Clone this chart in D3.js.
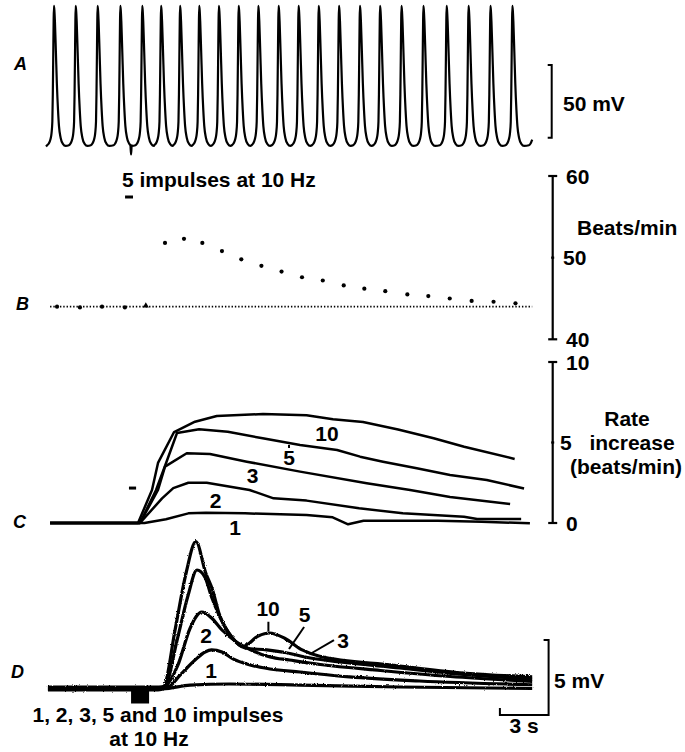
<!DOCTYPE html>
<html><head><meta charset="utf-8">
<script src="https://cdn.jsdelivr.net/npm/d3@7"></script>
<style>
html,body{margin:0;padding:0;background:#fff;}
svg{display:block;}
text{font-family:"Liberation Sans",Arial,Helvetica,sans-serif;font-weight:bold;fill:#000;}
</style></head><body>
<svg id="chart" width="685" height="752"></svg>
<script>
// ---------- DATA ----------
// shared time axis (s)
const timeDomain = [0, 30];

// Panel A: action potential peak times (s) and single-beat waveform (mV)
const beatTimes = [0.49,1.83,3.18,4.58,5.93,7.09,8.26,9.44,10.65,11.87,13.08,14.33,15.56,16.80,18.05,19.34,20.58,21.90,23.25,24.68,26.03,27.38,28.73,30.17];
const apDown = [[0,30.6],[0.03,27],[0.06,20],[0.12,-1],[0.18,-23],[0.25,-41],[0.31,-52],[0.41,-60],[0.55,-64.2],[0.72,-65.6]];
const apUp = [[-0.42,-65.2],[-0.32,-64],[-0.22,-61.3],[-0.15,-57],[-0.10,-49],[-0.07,-30],[-0.045,-5],[-0.02,20]];
const artifact = [[5.20,-65.4],[5.24,-71.5],[5.28,-65.2]];
const traceSpanA = [0, 29.95];

// Panel B: instantaneous rate (beats/min)
const bTimes = [0.68,2.09,3.45,4.86,6.15,7.33,8.50,9.63,10.84,12.03,13.27,14.51,15.77,17.05,18.34,19.61,20.90,22.26,23.55,24.87,26.22,27.57,28.92];
const bRates = [44.0,43.9,44.0,43.9,44.1,51.8,52.3,51.8,50.8,49.8,49.0,48.3,47.6,47.2,46.6,46.2,45.9,45.5,45.3,45.0,44.7,44.6,44.4];
const bControlRate = 44.0;
const bControlSpan = [0.25, 29.95];
const bStim = [4.87, 5.36];
const bTicks = [40, 50, 60];

// Panel C: rate increase (beats/min) for 1,2,3,5,10 impulses
const c10 = [[0.25,0],[5.67,0],[6.53,2.05],[6.90,3.73],[7.89,5.65],[9.18,6.29],[10.52,6.65],[13.37,6.77],[16.05,6.69],[17.68,6.44],[19.53,6.27],[21.69,5.81],[23.88,5.26],[25.76,4.74],[28.87,3.98]];
const c5 = [[0.25,0],[5.79,0],[6.78,2.05],[7.33,3.54],[8.07,5.59],[9.43,5.82],[11.2,5.67],[13.35,5.26],[15.65,4.84],[17.93,4.53],[19.35,4.12],[20.76,3.81],[22.84,3.40],[24.89,2.98],[27.15,2.67],[29.45,2.14]];
const c3 = [[0.25,0],[5.79,0],[6.90,2.05],[7.33,3.5],[8.67,4.33],[10.1,4.29],[12.37,3.81],[15.65,3.19],[19.76,2.47],[22.43,2.05],[24.89,1.61],[28.59,1.18]];
const c2 = [[0.25,0],[5.79,0],[7.15,1.53],[7.84,2.17],[8.77,2.5],[9.9,2.5],[12.54,2.05],[14.02,1.53],[16.05,1.39],[19.29,0.91],[21.98,0.60],[25.75,0.39],[26.56,0.25],[29.27,0.25]];
const c1 = [[0.25,0],[6.07,0],[7.39,0.23],[8.77,0.6],[9.85,0.64],[12.26,0.6],[16.05,0.5],[17.66,0.35],[18.61,-0.08],[19.56,0.14],[24.14,0.14],[26.84,0.08],[29.81,-0.02]];
const cLabels = [["10",17.31,5.09],["5",14.97,3.60],["3",12.72,2.48],["2",10.44,0.93],["1",11.65,-0.75]];
const cStim = [5.11, 5.55, 2.17];
const cTicks = [0, 5, 10];

// Panel D: depolarisation (mV)
const d10 = [[0.12,-0.06],[6.9,-0.06],[7.26,0.12],[7.95,3.9],[8.63,7.7],[9.23,9.8],[9.84,7.7],[10.25,6.6],[10.66,5.0],[11.46,3.4],[12.14,2.8],[13.08,3.5],[13.76,3.7],[14.7,3.35],[15.78,2.57],[16.86,2.15],[21.44,1.55],[25.49,1.05],[29.95,0.78]];
const d5 = [[0.12,0.06],[6.9,0.06],[7.33,0.17],[8.07,3.2],[8.75,6.2],[9.3,7.9],[9.8,7.4],[10.2,6.1],[10.7,4.8],[11.46,3.4],[12.26,2.7],[13.6,2.57],[14.85,2.37],[15.96,2.1],[18.1,1.77],[21.8,1.37],[25.5,0.95],[29.95,0.62]];
const d3c = [[0.12,-0.1],[6.9,-0.1],[7.33,0.1],[8.13,1.57],[8.87,4.0],[9.6,5.1],[10.2,4.7],[10.84,3.9],[11.65,3.17],[12.57,2.6],[13.8,2.1],[15.0,1.9],[16.9,1.6],[20.6,1.2],[24.9,0.8],[29.95,0.48]];
const d2 = [[0.12,0.1],[7.0,0.1],[7.52,0.12],[8.26,0.9],[9.18,1.9],[9.8,2.43],[10.2,2.57],[10.84,2.43],[11.52,1.97],[12.57,1.57],[13.8,1.3],[15.65,1.1],[18.7,0.77],[23.0,0.5],[29.95,0.25]];
const d1 = [[0.12,-0.02],[7.2,-0.02],[8.87,0.23],[11.3,0.3],[15.65,0.23],[21.8,0.1],[29.95,0.0]];
const dLabels = [["10",13.68,4.83],["5",15.93,4.45],["3",18.3,2.7],["2",9.86,3.03],["1",10.17,0.7]];
const dLeaders = [[[13.70,3.80],[13.70,4.45]],[[15.90,4.10],[14.97,2.63]],[[17.74,3.23],[16.27,2.30]]];
const dStim = [5.24, 6.35];

// ---------- SCALES ----------
const svg = d3.select("#chart");
const x = d3.scaleLinear().domain(timeDomain).range([46, 533]);
const yA = d3.scaleLinear().domain([-60, -10]).range([137.7, 65]);
const yB = d3.scaleLinear().domain([40, 60]).range([339.3, 176]);
const yC = d3.scaleLinear().domain([0, 10]).range([523, 362]);
const yD = d3.scaleLinear().domain([0, 5]).range([688.5, 613.5]);

// texture filter for the noisy intracellular traces of panel D
const defs = svg.append("defs");
const f = defs.append("filter").attr("id","rough").attr("filterUnits","userSpaceOnUse")
  .attr("x",0).attr("y",500).attr("width",685).attr("height",252);
f.append("feTurbulence").attr("type","fractalNoise").attr("baseFrequency","0.9").attr("numOctaves",1).attr("seed",4).attr("result","n");
f.append("feDisplacementMap").attr("in","SourceGraphic").attr("in2","n").attr("scale",2.6).attr("xChannelSelector","R").attr("yChannelSelector","G");

function clip(pts, t0, t1){
  const interp = (t)=>{
    for(let i=1;i<pts.length;i++){
      if(pts[i][0]>=t){const a=pts[i-1],b=pts[i];const k=(t-a[0])/(b[0]-a[0]);return [t,a[1]+k*(b[1]-a[1])];}
    }
    return pts[pts.length-1];
  };
  const inner = pts.filter(p=>p[0]>t0 && p[0]<t1);
  return [interp(t0), ...inner, interp(t1)];
}

// ---------- PANEL A ----------
let apts = [];
beatTimes.forEach(T=>{
  apUp.forEach(([dt,v])=>apts.push([T+dt,v]));
  apDown.forEach(([dt,v])=>apts.push([T+dt,v]));
});
apts = apts.concat(artifact).sort((a,b)=>a[0]-b[0]);
apts = clip(apts, traceSpanA[0], traceSpanA[1]);
const lineA = d3.line().x(d=>x(d[0])).y(d=>yA(d[1])).curve(d3.curveMonotoneX);
svg.append("path").attr("d", lineA(apts)).attr("fill","none").attr("stroke","#000").attr("stroke-width",2.2).attr("stroke-linejoin","round");

// 50 mV bar
const barX = 551.7;
svg.append("path").attr("d",`M${barX-4},${yA(-10)}H${barX}V${yA(-60)}H${barX-4}`).attr("fill","none").attr("stroke","#000").attr("stroke-width",2);
svg.append("text").attr("x",563).attr("y",110.5).attr("font-size",21).text("50 mV");
svg.append("text").attr("x",14).attr("y",70).attr("font-size",18).attr("font-style","italic").text("A");

// ---------- PANEL B ----------
svg.append("line").attr("x1",x(bControlSpan[0])).attr("x2",x(bControlSpan[1]))
  .attr("y1",yB(bControlRate)).attr("y2",yB(bControlRate))
  .attr("stroke","#000").attr("stroke-width",1.6).attr("stroke-dasharray","1.4 1.9");
bTimes.forEach((t,i)=>{
  if(i===4){
    svg.append("path").attr("d",d3.symbol(d3.symbolTriangle,16)()).attr("transform",`translate(${x(t)},${yB(bRates[i])})`).attr("fill","#000");
  } else {
    svg.append("circle").attr("cx",x(t)).attr("cy",yB(bRates[i])).attr("r",2.1).attr("fill","#000");
  }
});
svg.append("line").attr("x1",x(bStim[0])).attr("x2",x(bStim[1])).attr("y1",197).attr("y2",197).attr("stroke","#000").attr("stroke-width",3);
svg.append("text").attr("x",122).attr("y",186.5).attr("font-size",21).text("5 impulses at 10 Hz");
svg.append("text").attr("x",16).attr("y",310).attr("font-size",18).attr("font-style","italic").text("B");

const axX = 552.7;
svg.append("line").attr("x1",axX).attr("x2",axX).attr("y1",yB(40)).attr("y2",yB(60)).attr("stroke","#000").attr("stroke-width",2.2);
bTicks.forEach(v=>{
  const w = (v===40||v===60)?4.5:1.5;
  svg.append("line").attr("x1",axX-w).attr("x2",axX+w).attr("y1",yB(v)).attr("y2",yB(v)).attr("stroke","#000").attr("stroke-width",2.2);
  svg.append("text").attr("x",v===50?563:566).attr("y",yB(v)).attr("dy","0.36em").attr("font-size",21).text(v);
});
svg.append("text").attr("x",577).attr("y",235).attr("font-size",21).text("Beats/min");

// ---------- PANEL C ----------
const lineC = d3.line().x(d=>x(d[0])).y(d=>yC(d[1]));
[c10,c5,c3,c2,c1].forEach(s=>{
  svg.append("path").attr("d",lineC(s)).attr("fill","none").attr("stroke","#000").attr("stroke-width",2.5).attr("stroke-linejoin","round");
});
cLabels.forEach(([t,tx,v])=>{
  svg.append("text").attr("x",x(tx)).attr("y",yC(v)).attr("text-anchor","middle").attr("font-size",21).text(t);
});
svg.append("line").attr("x1",x(14.97)).attr("x2",x(14.97)).attr("y1",yC(4.85)).attr("y2",yC(4.66)).attr("stroke","#000").attr("stroke-width",2);
svg.append("line").attr("x1",x(cStim[0])).attr("x2",x(cStim[1])).attr("y1",yC(cStim[2])).attr("y2",yC(cStim[2])).attr("stroke","#000").attr("stroke-width",3);
svg.append("text").attr("x",13).attr("y",528).attr("font-size",18).attr("font-style","italic").text("C");

svg.append("line").attr("x1",axX).attr("x2",axX).attr("y1",yC(0)).attr("y2",yC(10)).attr("stroke","#000").attr("stroke-width",2.2);
cTicks.forEach(v=>{
  const w = (v===0||v===10)?4.5:1.5;
  svg.append("line").attr("x1",axX-w).attr("x2",axX+w).attr("y1",yC(v)).attr("y2",yC(v)).attr("stroke","#000").attr("stroke-width",2.2);
  svg.append("text").attr("x",v===5?560:566).attr("y",yC(v)).attr("dy","0.36em").attr("font-size",21).text(v);
});
const lineGap = 23.8;
const rateLines = [["Rate",627],["increase",632],["(beats/min)",626]];
rateLines.forEach(([s,cx],i)=>{
  svg.append("text").attr("x",cx).attr("y",426+i*lineGap).attr("text-anchor","middle").attr("font-size",21).text(s);
});

// ---------- PANEL D ----------
const lineD = d3.line().x(d=>x(d[0])).y(d=>yD(d[1])).curve(d3.curveMonotoneX);
const gD = svg.append("g").attr("filter","url(#rough)");
[d1,d2,d3c,d5,d10].forEach(s=>{
  gD.append("path").attr("d",lineD(s)).attr("fill","none").attr("stroke","#000").attr("stroke-width",3.2).attr("stroke-linejoin","round");
});
svg.append("rect").attr("x",x(dStim[0])).attr("y",yD(0)).attr("width",x(dStim[1])-x(dStim[0])).attr("height",15).attr("fill","#000");
dLabels.forEach(([t,tx,v])=>{
  svg.append("text").attr("x",x(tx)).attr("y",yD(v)).attr("text-anchor","middle").attr("font-size",21).text(t);
});
dLeaders.forEach(([a,b])=>{
  svg.append("line").attr("x1",x(a[0])).attr("y1",yD(a[1])).attr("x2",x(b[0])).attr("y2",yD(b[1])).attr("stroke","#000").attr("stroke-width",2);
});
svg.append("text").attr("x",11).attr("y",678).attr("font-size",18).attr("font-style","italic").text("D");

// scale bars
const sbRight = 548.6, sbBottom = 715;
svg.append("path").attr("d",`M${sbRight-5},${sbBottom-(yD(0)-yD(5))}H${sbRight}V${sbBottom}H${sbRight-(x(3)-x(0))}V${sbBottom-7}`)
  .attr("fill","none").attr("stroke","#000").attr("stroke-width",2);
svg.append("text").attr("x",554).attr("y",688).attr("font-size",21).text("5 mV");
svg.append("text").attr("x",524).attr("y",733).attr("text-anchor","middle").attr("font-size",21).text("3 s");
const bottomLines = [["1, 2, 3, 5 and 10 impulses",158],["at 10 Hz",149]];
bottomLines.forEach(([s,cx],i)=>{
  svg.append("text").attr("x",cx).attr("y",722+i*lineGap).attr("text-anchor","middle").attr("font-size",21).text(s);
});
</script></body></html>
